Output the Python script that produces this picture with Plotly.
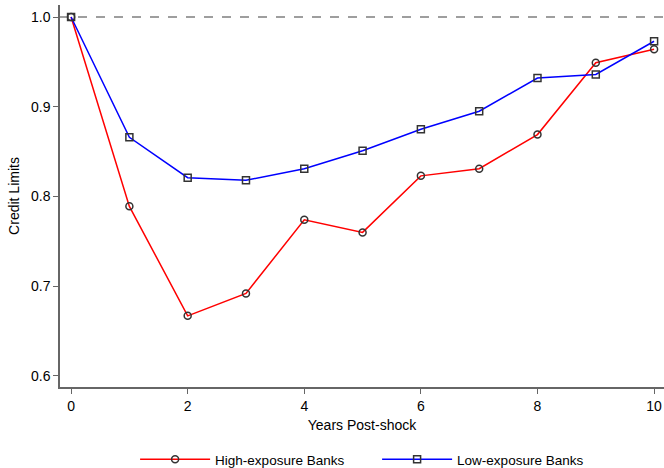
import plotly.graph_objects as go

years = [0, 1, 2, 3, 4, 5, 6, 7, 8, 9, 10]
high_exposure = [1.0, 0.789, 0.667, 0.692, 0.774, 0.760, 0.823, 0.831, 0.869, 0.949, 0.964]
low_exposure = [1.0, 0.866, 0.821, 0.818, 0.831, 0.851, 0.875, 0.895, 0.932, 0.936, 0.973]
y_ticks = [0.6, 0.7, 0.8, 0.9, 1.0]
x_ticks = [0, 2, 4, 6, 8, 10]

fig = go.Figure()
fig.add_trace(go.Scatter(
    x=years, y=high_exposure, mode="lines+markers", name="High-exposure Banks",
    line=dict(color="#ff0000", width=1.5),
    marker=dict(symbol="circle-open", size=7, color="#333333", line=dict(width=1.5, color="#333333")),
    cliponaxis=False,
))
fig.add_trace(go.Scatter(
    x=years, y=low_exposure, mode="lines+markers", name="Low-exposure Banks",
    line=dict(color="#0000ff", width=1.5),
    marker=dict(symbol="square-open", size=7, color="#333333", line=dict(width=1.5, color="#333333")),
    cliponaxis=False,
))
fig.add_hline(y=1.0, line=dict(color="#7f7f7f", width=1.5, dash="dash"), layer="below")

fig.update_layout(
    width=664, height=468,
    margin=dict(l=60, r=0, t=5, b=81, autoexpand=False),
    paper_bgcolor="white", plot_bgcolor="white",
    font=dict(family="Arial, Liberation Sans, sans-serif", size=14, color="#000000"),
    showlegend=True,
    legend=dict(orientation="h", x=0.525, xanchor="center", y=-0.19, yanchor="middle",
                font=dict(size=13.5), itemwidth=70, tracegroupgap=0,
                entrywidth=157, entrywidthmode="pixels"),
)
fig.update_xaxes(
    automargin=False,
    range=[-0.19, 10.17], tickvals=x_ticks, ticks="outside", ticklen=5, tickcolor="#666666",
    showline=True, linecolor="#666666", linewidth=1.5, showgrid=False, zeroline=False,
    tickfont=dict(size=14),
    title=dict(text="Years Post-shock", font=dict(size=14), standoff=8),
)
fig.update_yaxes(
    automargin=False,
    range=[0.5877, 1.0134], tickvals=y_ticks, tickformat=".1f", ticks="outside", ticklen=5,
    tickcolor="#666666", showline=True, linecolor="#666666", linewidth=1.5, showgrid=False,
    zeroline=False, tickfont=dict(size=14),
    title=dict(text="Credit Limits", font=dict(size=14), standoff=8),
)

fig.write_html("out.html", config={"displayModeBar": False},
               post_script="document.body.style.margin='0';document.body.style.overflow='hidden';")
